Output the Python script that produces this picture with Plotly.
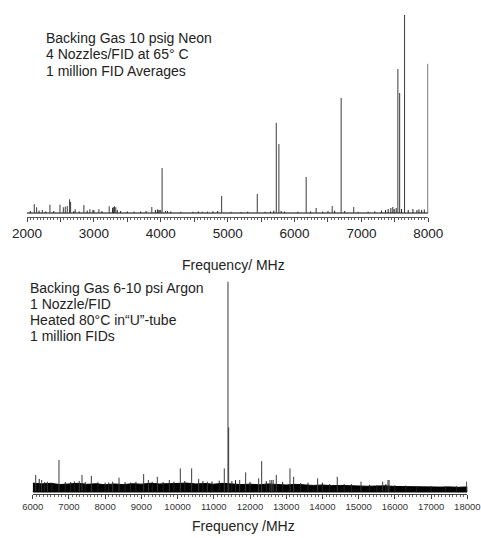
import plotly.graph_objects as go

# ---------------- Neon spectrum (2-8 GHz) ----------------
neon_freq = [2109, 2144, 2229, 2343, 2493, 2543, 2572, 2602, 2637, 2652, 2721, 2851,
             2940, 2985, 3075, 3229, 3308, 3328, 3866, 3970, 3985, 4000, 4020, 4070,
             4910, 5443, 5727, 5766, 6174, 6323, 6563, 6697, 6885,
             7545, 7572, 7645, 7995]
neon_int = [4.5, 2.9, 1.5, 4.2, 4.2, 2.9, 3.2, 3.5, 6.9, 5.6, 1.9, 4.0,
            1.9, 1.5, 1.9, 3.4, 3.4, 2.9, 3.0, 1.5, 1.6, 1.5, 22.7, 1.0,
            8.6, 9.6, 45.5, 34.8, 18.2, 2.5, 3.5, 58.1, 3.0,
            72.7, 60.6, 100.0, 75.3]
# weak lines sitting on the baseline
neon_weak_freq = [2050, 2180, 2280, 2400, 2700, 2780, 2900, 3000, 3120, 3280, 3290, 3350,
                  3400, 3500, 3600, 3700, 3780, 3920, 3950, 4100, 4150, 4300,
                  4480, 4560, 4620, 4700, 4780, 4850, 5050, 5200, 5300, 5560, 5640,
                  5690, 5800, 5850, 6050, 6240, 6420, 6500, 6600, 6750, 6950, 7100,
                  7200, 7300, 7360, 7400, 7440, 7470, 7490, 7520, 7600, 7700, 7770,
                  7830, 7860, 7900, 7940]
neon_weak_int = [1.0, 1.2, 0.8, 1.0, 1.0, 0.8, 1.2, 1.5, 1.0, 2.5, 3.0, 1.5,
                 1.0, 0.8, 0.7, 0.8, 1.0, 1.5, 1.8, 1.0, 0.8, 0.6,
                 0.6, 0.8, 0.6, 0.7, 0.9, 1.0, 0.6, 0.5, 0.7, 0.6, 0.8,
                 1.2, 1.0, 0.7, 0.6, 0.8, 0.7, 1.0, 1.2, 1.0, 0.6, 0.7,
                 0.8, 1.2, 1.5, 2.0, 2.5, 3.0, 2.0, 2.5, 2.0, 1.5, 2.0,
                 1.5, 1.8, 1.5, 1.8]

# ---------------- Argon spectrum (6-18 GHz) ----------------
argon_freq = [6083, 6248, 6403, 6726, 7287, 7361, 7619, 8208, 8383, 9064, 9193, 9441,
              9772, 10076, 10389, 10583, 10821, 11290, 11392, 11411, 11715, 11880,
              12239, 12322, 12550, 12600, 12640, 12726, 13104, 13205, 13868, 14409,
              15064, 15663, 15810, 15840, 17983]
argon_int = [7.9, 5.5, 4.7, 15.0, 5.0, 7.9, 7.4, 4.7, 6.6, 8.3, 5.5, 7.0,
             5.5, 11.0, 11.0, 6.0, 4.7, 11.0, 100.0, 30.6, 5.5, 9.1,
             6.3, 14.5, 5.5, 5.5, 5.5, 7.9, 11.0, 7.0, 6.3, 7.0,
             4.7, 4.7, 5.5, 5.5, 4.7]
argon_weak_freq = [6180, 6330, 6530, 6900, 7050, 7150, 7450, 7800, 8000, 8100, 8550,
                   8700, 8850, 9300, 9600, 9900, 10200, 10700, 10950, 11150, 11500,
                   11600, 12000, 12450, 12900, 13400, 13600, 14000, 14200, 14600,
                   14800, 15300, 15500, 15750, 16000, 16300, 16600, 17000, 17400, 17700]
argon_weak_int = [6.0, 4.5, 4.2, 4.5, 4.5, 4.8, 4.5, 4.4, 4.2, 4.3, 4.5,
                  4.2, 4.6, 4.6, 4.5, 4.7, 5.0, 5.0, 4.8, 5.2, 5.0,
                  5.4, 4.6, 5.0, 4.5, 4.0, 4.2, 4.2, 3.6, 3.6,
                  3.5, 3.2, 3.0, 3.5, 3.0, 2.8, 2.6, 2.6, 2.5, 2.5]
# upper edge of the noise floor
noise_freq = [6000, 6250, 6500, 6750, 7000, 7250, 7500, 7750, 8000, 8250, 8500, 8750,
              9000, 9250, 9500, 9750, 10000, 10250, 10500, 10750, 11000, 11250, 11500,
              11750, 12000, 12250, 12500, 12750, 13000, 13250, 13500, 13750, 14000,
              14250, 14500, 14750, 15000, 15250, 15500, 15750, 16000, 16250, 16500,
              16750, 17000, 17250, 17500, 17750, 18000]
noise_amp = [4.0, 3.6, 3.9, 3.3, 3.6, 3.9, 3.4, 3.7, 3.2, 3.6, 3.3, 3.7,
             3.5, 3.9, 3.6, 3.8, 3.7, 4.0, 3.6, 3.8, 3.5, 3.9, 3.6,
             3.3, 3.5, 3.2, 3.6, 3.3, 3.1, 3.4, 3.0, 2.9, 3.1,
             2.8, 2.9, 2.7, 2.8, 2.5, 2.6, 2.7, 2.4, 2.3, 2.4,
             2.2, 2.3, 2.1, 2.2, 2.0, 2.2]

top_ticks = [2000, 2500, 3000, 3500, 4000, 4500, 5000, 5500, 6000, 6500, 7000, 7500, 8000]
top_ticktext = ["2000", "", "3000", "", "4000", "", "5000", "", "6000", "", "7000", "", "8000"]
bottom_ticks = list(range(6000, 18001, 1000))
bottom_ticktext = [str(v) for v in bottom_ticks]

top_notes = ["Backing Gas 10 psig Neon", "4 Nozzles/FID at 65° C", "1 million FID Averages"]
bottom_notes = ["Backing Gas 6-10 psi Argon", "1 Nozzle/FID",
                "Heated 80°C in\u201cU\u201d-tube", "1 million FIDs"]

W, H = 481, 538
FONT = "Arial, Liberation Sans, sans-serif"
TEXT = "#222222"
STICK = "#3a3a3a"


def sticks(freqs, ints):
    xs, ys = [], []
    for f, v in zip(freqs, ints):
        xs += [f, f, None]
        ys += [0, v, None]
    return xs, ys


def px_x(x):
    return x / W


def px_y(y):
    return 1 - y / H


fig = go.Figure()

# Neon panel
fig.add_trace(go.Scatter(x=[2000, 8000], y=[0, 0], mode="lines",
                         line=dict(color="black", width=1), xaxis="x", yaxis="y",
                         hoverinfo="skip"))
wx, wy = sticks(neon_weak_freq, neon_weak_int)
fig.add_trace(go.Scatter(x=wx, y=wy, mode="lines", line=dict(color="#222", width=1),
                         xaxis="x", yaxis="y"))
sx, sy = sticks(neon_freq, neon_int)
fig.add_trace(go.Scatter(x=sx, y=sy, mode="lines", line=dict(color=STICK, width=1),
                         xaxis="x", yaxis="y"))

# Argon panel
fig.add_trace(go.Scatter(x=noise_freq + noise_freq[::-1],
                         y=noise_amp + [0] * len(noise_freq),
                         fill="toself", fillcolor="black", mode="lines",
                         line=dict(color="black", width=1), xaxis="x2", yaxis="y2",
                         hoverinfo="skip"))
fig.add_trace(go.Scatter(x=[6000, 18000], y=[0, 0], mode="lines",
                         line=dict(color="black", width=2), xaxis="x2", yaxis="y2"))
wx, wy = sticks(argon_weak_freq, argon_weak_int)
fig.add_trace(go.Scatter(x=wx, y=wy, mode="lines", line=dict(color="#222", width=1),
                         xaxis="x2", yaxis="y2"))
sx, sy = sticks(argon_freq, argon_int)
fig.add_trace(go.Scatter(x=sx, y=sy, mode="lines", line=dict(color=STICK, width=1),
                         xaxis="x2", yaxis="y2"))

annotations = []
for i, t in enumerate(top_notes):
    annotations.append(dict(text=t, x=px_x(45), y=px_y([38, 54.5, 70.5][i]),
                            xref="paper", yref="paper", xanchor="left", yanchor="middle",
                            showarrow=False, font=dict(family=FONT, size=14, color=TEXT),
                            borderpad=0))
for i, t in enumerate(bottom_notes):
    annotations.append(dict(text=t, x=px_x(29), y=px_y([288, 303.5, 320, 336][i]),
                            xref="paper", yref="paper", xanchor="left", yanchor="middle",
                            showarrow=False, font=dict(family=FONT, size=14, color=TEXT),
                            borderpad=0))
annotations.append(dict(text="Frequency/ MHz", x=px_x(233), y=px_y(265), xref="paper",
                        yref="paper", xanchor="center", yanchor="middle", showarrow=False,
                        font=dict(family=FONT, size=14, color=TEXT)))
annotations.append(dict(text="Frequency /MHz", x=px_x(243), y=px_y(526), xref="paper",
                        yref="paper", xanchor="center", yanchor="middle", showarrow=False,
                        font=dict(family=FONT, size=14, color=TEXT)))

fig.update_layout(
    width=W, height=H, autosize=False,
    margin=dict(l=0, r=0, t=0, b=0, pad=0, autoexpand=False),
    paper_bgcolor="white", plot_bgcolor="white",
    showlegend=False,
    annotations=annotations,
    xaxis=dict(domain=[px_x(27), px_x(428.3)], range=[2000, 8000], anchor="y",
               automargin=False,
               tickmode="array", tickvals=top_ticks, ticktext=top_ticktext,
               ticks="outside", ticklen=4, tickwidth=1, tickcolor="#444",
               showline=True, linecolor="#555", linewidth=1, showgrid=False,
               zeroline=False, tickfont=dict(family=FONT, size=13.5, color=TEXT),
               minor=dict(ticks="outside", ticklen=2, tickcolor="#666", tickwidth=1,
                          tickmode="linear", tick0=2000, dtick=50, showgrid=False)),
    yaxis=dict(domain=[px_y(217), px_y(10)], range=[-2.02, 102.5], visible=False,
               anchor="x", automargin=False),
    xaxis2=dict(domain=[px_x(32.7), px_x(467.3)], range=[6000, 18000], anchor="y2",
                automargin=False,
                tickmode="array", tickvals=bottom_ticks, ticktext=bottom_ticktext,
                ticks="outside", ticklen=4, tickwidth=1, tickcolor="#444",
                showline=True, linecolor="#444", linewidth=1, showgrid=False,
                zeroline=False, tickfont=dict(family=FONT, size=9.5, color="#333"),
                minor=dict(ticks="outside", ticklen=2, tickcolor="#666", tickwidth=1,
                           tickmode="linear", tick0=6000, dtick=100, showgrid=False)),
    yaxis2=dict(domain=[px_y(494), px_y(270)], range=[-1.19, 105.6], visible=False,
                anchor="x2", automargin=False),
)

fig.write_html("out.html")
